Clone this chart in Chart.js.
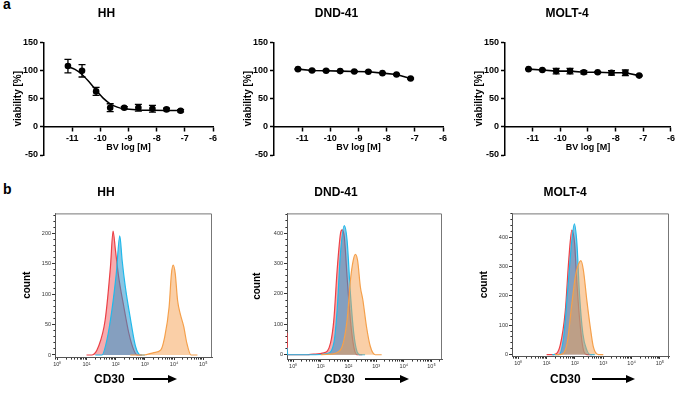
<!DOCTYPE html>
<html>
<head>
<meta charset="utf-8">
<script src="https://cdn.jsdelivr.net/npm/chart.js@4.4.0/dist/chart.umd.min.js"></script>
<style>
  body { margin: 0; width: 677px; height: 393px; background: #fff; position: relative; overflow: hidden;
         font-family: 'Liberation Sans', Arial, sans-serif; }
  canvas { position: absolute; }
  .letter { position: absolute; font-weight: bold; font-size: 14px; line-height: 14px; }
  .cd { position: absolute; font-weight: bold; font-size: 12px; line-height: 14px; }
  .arrow { position: absolute; height: 2px; background: #000; }
  .arrow:after { content: ''; position: absolute; right: -8px; top: -3px;
                 border-left: 9px solid #000; border-top: 4px solid transparent; border-bottom: 4px solid transparent; }
</style>
</head>
<body>
<div class="letter" style="left:3px;top:-3px">a</div>
<div class="letter" style="left:3px;top:182px">b</div>

<canvas id="vHH" width="224" height="170" style="left:0px;top:0px"></canvas>
<canvas id="vDND" width="224" height="170" style="left:230px;top:0px"></canvas>
<canvas id="vMOLT" width="216" height="170" style="left:461px;top:0px"></canvas>

<canvas id="fHH" width="222" height="223" style="left:0px;top:170px"></canvas>
<canvas id="fDND" width="222" height="223" style="left:230px;top:170px"></canvas>
<canvas id="fMOLT" width="216" height="223" style="left:461px;top:170px"></canvas>

<div class="cd" style="left:94px;top:372px">CD30</div><div class="arrow" style="left:133px;top:378px;width:36px"></div>
<div class="cd" style="left:324px;top:372px">CD30</div><div class="arrow" style="left:365px;top:378px;width:36px"></div>
<div class="cd" style="left:550px;top:372px">CD30</div><div class="arrow" style="left:592px;top:378px;width:35px"></div>

<script>
Chart.defaults.font.family = "'Liberation Sans', Arial, sans-serif";
Chart.defaults.color = '#000';

// ---- a: viability vs BV concentration ----
var doseLog = [-11.15, -10.65, -10.15, -9.65, -9.15, -8.65, -8.15, -7.65, -7.15];
var doseTicks = [-11, -10, -9, -8, -7, -6];
var viabTicks = [-50, 0, 50, 100, 150];

var hhViab = [108, 99.5, 63, 34, 34, 34, 32, 31, 28.5];
var hhErr  = [12, 11, 7, 7, 2, 6, 6, 2, 2];
// fitted curve
var hhFitX = [-11.15, -10.9, -10.65, -10.4, -10.15, -9.9, -9.65, -9.4, -9.15, -8.65, -8.15, -7.65, -7.15];
var hhFitY = [107, 102, 93, 80, 65, 51, 41, 35, 32, 30, 29.5, 29.2, 29];

var dndViab = [102.5, 100, 99.6, 99, 98.4, 97.8, 95.4, 93, 86];
var dndErr  = [1, 1, 1, 1, 1, 1, 1, 1, 1];

var moltViab = [102.5, 101, 99, 99, 97, 97, 96, 96, 91];
var moltErr  = [1, 1, 5, 5, 3, 1, 4, 5, 1];

// ---- b: CD30 histograms (x as log10 of intensity) ----
var hhRedExp = [1.0, 1.19, 1.41, 1.64, 1.82, 1.91, 1.99, 2.10, 2.28, 2.45, 2.62, 2.74, 2.9];
var hhRedCnt = [0, 0, 14, 58, 145, 204, 173, 129, 79, 36, 8, 0, 0];
var hhBlueExp = [1.3, 1.53, 1.70, 1.87, 2.02, 2.14, 2.22, 2.33, 2.51, 2.68, 2.85, 3.0];
var hhBlueCnt = [0, 0, 25, 74, 134, 196, 156, 112, 58, 14, 0, 0];
var hhOrangeExp = [2.5, 2.97, 3.31, 3.54, 3.68, 3.83, 3.91, 3.97, 4.04, 4.12, 4.21, 4.33, 4.44, 4.58, 4.8];
var hhOrangeCnt = [0, 0, 4, 8, 30, 79, 134, 148, 134, 90, 68, 47, 19, 0, 0];

var dndRedExp = [-0.22, -0.2, 0.5, 0.74, 1.10, 1.35, 1.47, 1.59, 1.71, 1.77, 1.85, 1.95, 2.07, 2.19, 2.31, 2.5];
var dndRedCnt = [72, 0, 0, 2, 6, 38, 114, 278, 398, 411, 387, 256, 114, 27, 0, 0];
var dndBlueExp = [-0.22, -0.2, 0.8, 1.23, 1.47, 1.59, 1.71, 1.85, 1.95, 2.07, 2.19, 2.31, 2.43, 2.6];
var dndBlueCnt = [23, 0, 0, 4, 38, 147, 333, 425, 376, 201, 71, 10, 0, 0];
var dndOrangeExp = [1.0, 1.35, 1.71, 1.95, 2.07, 2.17, 2.25, 2.33, 2.43, 2.52, 2.65, 2.79, 2.97, 3.2];
var dndOrangeCnt = [0, 2, 16, 114, 245, 310, 330, 310, 223, 180, 93, 27, 0, 0];

var moltRedExp = [1.0, 1.25, 1.48, 1.66, 1.78, 1.89, 1.99, 2.07, 2.19, 2.30, 2.42, 2.6];
var moltRedCnt = [0, 0, 32, 150, 321, 425, 378, 242, 94, 15, 0, 0];
var moltBlueExp = [1.2, 1.43, 1.60, 1.78, 1.89, 1.98, 2.07, 2.16, 2.28, 2.42, 2.54, 2.7];
var moltBlueCnt = [0, 0, 60, 264, 389, 446, 378, 207, 71, 15, 0, 0];
var moltOrangeExp = [1.3, 1.48, 1.72, 1.89, 2.01, 2.13, 2.21, 2.30, 2.42, 2.54, 2.65, 2.83, 3.0];
var moltOrangeCnt = [0, 0, 37, 173, 264, 310, 321, 287, 185, 94, 26, 0, 0];

var supDigits = ['\u2070', '\u00b9', '\u00b2', '\u00b3', '\u2074', '\u2075'];

// error bars drawn through the y scale
var errorBars = {
  id: 'errorBars',
  afterDatasetsDraw: function(chart) {
    var ctx = chart.ctx;
    var yScale = chart.scales.y;
    chart.data.datasets.forEach(function(ds, i) {
      if (!ds.errors) return;
      var meta = chart.getDatasetMeta(i);
      ctx.save();
      ctx.strokeStyle = '#000';
      ctx.lineWidth = 1.3;
      meta.data.forEach(function(pt, j) {
        var e = ds.errors[j];
        if (!e) return;
        var v = ds.data[j].y;
        var top = yScale.getPixelForValue(v + e);
        var bot = yScale.getPixelForValue(v - e);
        ctx.beginPath();
        ctx.moveTo(pt.x, top); ctx.lineTo(pt.x, bot);
        ctx.moveTo(pt.x - 3.5, top); ctx.lineTo(pt.x + 3.5, top);
        ctx.moveTo(pt.x - 3.5, bot); ctx.lineTo(pt.x + 3.5, bot);
        ctx.stroke();
      });
      ctx.restore();
    });
  }
};

// top and right edge of the flow plots
var frame = {
  id: 'frame',
  afterDraw: function(chart) {
    var a = chart.chartArea, ctx = chart.ctx;
    ctx.save();
    ctx.strokeStyle = '#777';
    ctx.lineWidth = 1;
    ctx.beginPath();
    ctx.moveTo(a.left, a.top + 0.5);
    ctx.lineTo(a.right - 0.5, a.top + 0.5);
    ctx.lineTo(a.right - 0.5, a.bottom);
    ctx.stroke();
    ctx.restore();
  }
};

function viabilityChart(id, title, values, errors, fitX, fitY, padRight) {
  var datasets = [{
    data: doseLog.map(function(x, i) { return {x: x, y: values[i]}; }),
    errors: errors,
    showLine: !fitX,
    borderColor: '#000',
    backgroundColor: '#000',
    borderWidth: 1.6,
    pointRadius: 3.3,
    pointBorderWidth: 0
  }];
  if (fitX) {
    datasets.push({
      data: fitX.map(function(x, i) { return {x: x, y: fitY[i]}; }),
      showLine: true,
      pointRadius: 0,
      borderColor: '#000',
      borderWidth: 1.5,
      cubicInterpolationMode: 'monotone'
    });
  }
  return new Chart(document.getElementById(id), {
    type: 'scatter',
    data: {datasets: datasets},
    plugins: [errorBars],
    options: {
      responsive: false,
      animation: false,
      layout: {padding: {left: 0, right: padRight, top: 0, bottom: 15}},
      plugins: {
        legend: {display: false},
        tooltip: {enabled: false},
        title: {display: true, text: title, font: {size: 12, weight: 'bold'}, color: '#000',
                padding: {top: 6, bottom: 22}}
      },
      scales: {
        x: {
          type: 'linear', min: -12, max: -6, position: {y: 0},
          afterBuildTicks: function(s) { s.ticks = doseTicks.map(function(v) { return {value: v}; }); },
          afterFit: function(s) { s.height = 28; },
          grid: {drawOnChartArea: false, tickLength: 4, tickColor: '#000', tickWidth: 1.5},
          border: {color: '#000', width: 1.5},
          ticks: {font: {size: 9, weight: 'bold'}, color: '#000', padding: 2, autoSkip: false, maxRotation: 0},
          title: {display: true, text: 'BV log [M]', font: {size: 9, weight: 'bold'}, color: '#000', padding: {top: 0, bottom: 2}}
        },
        y: {
          type: 'linear', min: -50, max: 150,
          afterBuildTicks: function(s) { s.ticks = viabTicks.map(function(v) { return {value: v}; }); },
          afterFit: function(s) { s.width = 44; },
          grid: {drawOnChartArea: false, tickLength: 4, tickColor: '#000', tickWidth: 1.5},
          border: {color: '#000', width: 1.5},
          ticks: {font: {size: 9, weight: 'bold'}, color: '#000', padding: 2},
          title: {display: true, text: 'viability [%]', font: {size: 10, weight: 'bold'}, color: '#000', padding: {top: 12, bottom: 0}}
        }
      }
    }
  });
}

function histSet(exps, counts, line, fillColour) {
  return {
    data: exps.map(function(e, i) { return {x: Math.pow(10, e), y: counts[i]}; }),
    showLine: true,
    fill: 'origin',
    borderColor: line,
    backgroundColor: fillColour,
    borderWidth: 1.2,
    pointRadius: 0,
    cubicInterpolationMode: 'monotone'
  };
}

function flowChart(id, title, sets, yMin, yMax, labelStep, minorStep, xMinExp, xMaxExp, yWidth, bottomH, padRight, yTitlePad) {
  var xTicks = [];
  for (var d = -1; d <= 5; d++) {
    for (var k = 1; k <= 9; k++) {
      var v = k * Math.pow(10, d);
      if (v >= Math.pow(10, xMinExp) && v <= Math.pow(10, xMaxExp)) xTicks.push({value: v, major: k === 1});
    }
  }
  var yTicks = [];
  for (var t = 0; t <= yMax; t += minorStep) yTicks.push({value: t});
  return new Chart(document.getElementById(id), {
    type: 'scatter',
    data: {datasets: sets},
    plugins: [frame],
    options: {
      responsive: false,
      animation: false,
      layout: {padding: {left: 0, right: padRight, top: 0, bottom: 0}},
      plugins: {
        legend: {display: false},
        tooltip: {enabled: false},
        title: {display: true, text: title, font: {size: 12, weight: 'bold'}, color: '#000',
                padding: {top: 15, bottom: 14}}
      },
      scales: {
        x: {
          type: 'logarithmic', min: Math.pow(10, xMinExp), max: Math.pow(10, xMaxExp),
          afterBuildTicks: function(s) { s.ticks = xTicks.map(function(o) { return {value: o.value, major: o.major}; }); },
          afterFit: function(s) { s.height = bottomH; },
          grid: {
            drawOnChartArea: false, tickLength: 3, tickColor: '#333', tickWidth: 1,
            tickBorderDash: function(c) {
              var v = c.tick ? c.tick.value : 1;
              var e = Math.log10(v);
              return Math.abs(e - Math.round(e)) < 1e-6 ? [] : [1.6, 10];
            }
          },
          border: {color: '#555', width: 1},
          ticks: {
            font: {size: 5.5}, color: '#333', padding: 1, autoSkip: false, maxRotation: 0,
            callback: function(v) {
              var e = Math.log10(v);
              if (Math.abs(e - Math.round(e)) < 1e-6 && Math.round(e) >= 0) return '10' + supDigits[Math.round(e)];
              return '';
            }
          }
        },
        y: {
          type: 'linear', min: yMin, max: yMax,
          afterBuildTicks: function(s) { s.ticks = yTicks.map(function(o) { return {value: o.value}; }); },
          afterFit: function(s) { s.width = yWidth; },
          grid: {
            drawOnChartArea: false, tickLength: 3, tickColor: '#333', tickWidth: 1,
            tickBorderDash: function(c) {
              var v = c.tick ? c.tick.value : 0;
              return v % labelStep === 0 ? [] : [0, 1.4, 1.6, 10];
            }
          },
          border: {color: '#555', width: 1},
          ticks: {
            font: {size: 5.5}, color: '#333', padding: 1, autoSkip: false,
            callback: function(v) { return v % labelStep === 0 ? String(v) : ''; }
          },
          title: {display: true, text: 'count', font: {size: 10, weight: 'bold'}, color: '#000', padding: {top: yTitlePad, bottom: 0}}
        }
      }
    }
  });
}

var RED = 'rgb(236,64,70)', RED_F = 'rgba(240,90,95,0.5)';
var BLUE = 'rgb(32,186,235)', BLUE_F = 'rgba(40,150,205,0.55)';
var ORANGE = 'rgb(245,160,75)', ORANGE_F = 'rgba(246,160,80,0.5)';

viabilityChart('vHH', 'HH', hhViab, hhErr, hhFitX, hhFitY, 11);
viabilityChart('vDND', 'DND-41', dndViab, dndErr, null, null, 11);
viabilityChart('vMOLT', 'MOLT-4', moltViab, moltErr, null, null, 4);

flowChart('fHH', 'HH', [
  histSet(hhOrangeExp, hhOrangeCnt, ORANGE, ORANGE_F),
  histSet(hhBlueExp, hhBlueCnt, BLUE, BLUE_F),
  histSet(hhRedExp, hhRedCnt, RED, RED_F)
], -3.3, 233, 50, 10, -0.08, 5.3, 55, 36, 10, 21);

flowChart('fDND', 'DND-41', [
  histSet(dndOrangeExp, dndOrangeCnt, ORANGE, ORANGE_F),
  histSet(dndBlueExp, dndBlueCnt, BLUE, BLUE_F),
  histSet(dndRedExp, dndRedCnt, RED, RED_F)
], -14, 465, 100, 20, -0.22, 5.38, 57, 34, 10, 21);

flowChart('fMOLT', 'MOLT-4', [
  histSet(moltOrangeExp, moltOrangeCnt, ORANGE, ORANGE_F),
  histSet(moltBlueExp, moltBlueCnt, BLUE, BLUE_F),
  histSet(moltRedExp, moltRedCnt, RED, RED_F)
], -5, 482, 100, 20, -0.21, 5.32, 51, 37, 8, 17);
</script>
</body>
</html>
